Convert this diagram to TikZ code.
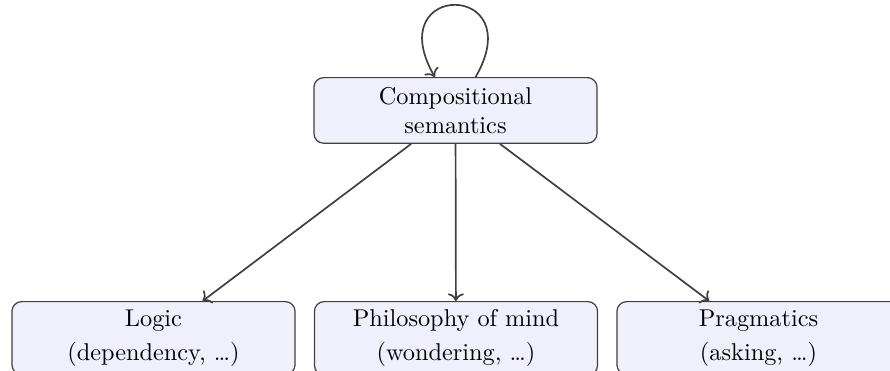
\documentclass[tikz,border=0pt]{standalone}
\usetikzlibrary{arrows.meta}
\definecolor{boxfill}{RGB}{240,240,252}
\definecolor{linecol}{RGB}{64,64,64}
\begin{document}
\begin{tikzpicture}[x=0.4115pt,y=-0.4115pt,
  box/.style={draw=linecol, fill=boxfill, rounded corners=4pt, minimum width=116.5pt, align=center, line width=0.5pt},
  conn/.style={->, draw=linecol, line width=0.7pt}]
\useasboundingbox (0,0) rectangle (890,370);
\node[box, anchor=north, minimum height=27pt] (comp) at (455.5,77) {Compositional\\semantics};
\node[box, anchor=north] (logic) at (153.5,301) {Logic\\[2pt](dependency, …)};
\node[box, anchor=north] (mind) at (456,301) {Philosophy of mind\\[2pt](wondering, …)};
\node[box, anchor=north] (prag) at (758.5,301) {Pragmatics\\[2pt](asking, …)};
\draw[conn] (comp) -- (logic);
\draw[conn] (comp) -- (mind);
\draw[conn] (comp) -- (prag);
\draw[conn] ([xshift=8.3pt]comp.north) .. controls +(55,-96) and +(-55,-96) .. ([xshift=-8.5pt]comp.north);
\end{tikzpicture}
\end{document}
